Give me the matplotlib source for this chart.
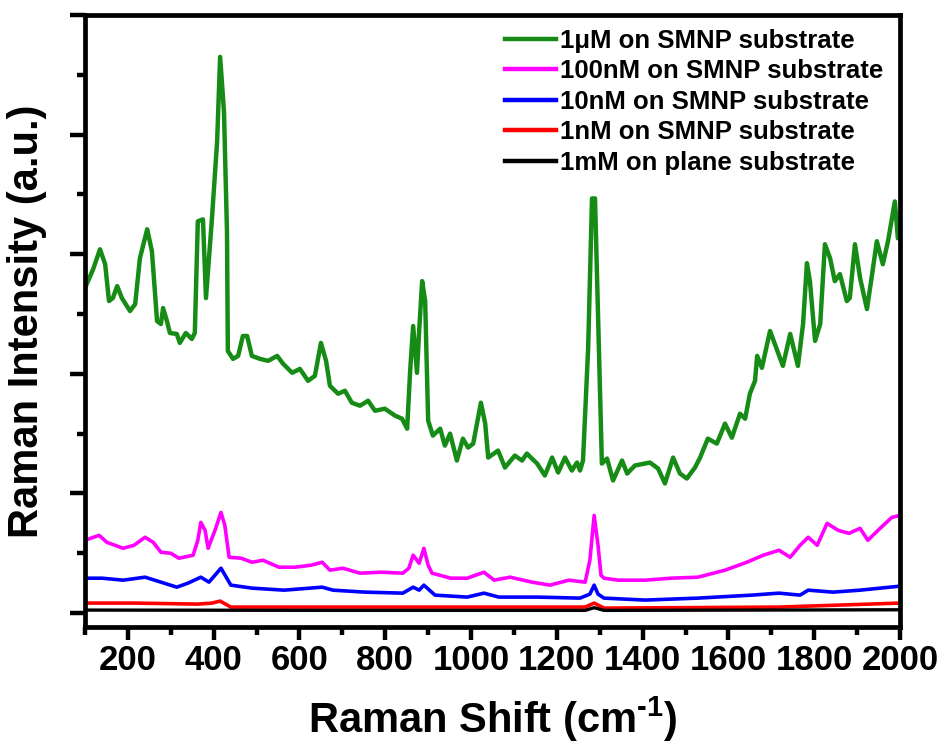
import matplotlib
matplotlib.use("Agg")
import matplotlib.pyplot as plt
from matplotlib.ticker import MultipleLocator, FixedLocator

plt.rcParams['font.family'] = ['Liberation Sans', 'DejaVu Sans']
plt.rcParams['font.weight'] = 'bold'
plt.rcParams['mathtext.fontset'] = 'custom'
plt.rcParams['mathtext.bf'] = 'Liberation Sans:bold'
plt.rcParams['mathtext.rm'] = 'Liberation Sans:bold'
plt.rcParams['axes.unicode_minus'] = False

# Raman spectra (wavenumber in cm^-1, intensity in a.u.)
shift_1uM = [102, 119, 135, 147, 156, 165, 175, 186, 205, 217, 228, 245, 256, 268, 277,
             282, 291, 298, 314, 321, 335, 349, 356, 363, 375, 382, 396, 408, 415, 424,
             431, 433, 445, 457, 468, 478, 489, 508, 527, 548, 562, 583, 601, 620, 636,
             650, 662, 671, 690, 706, 722, 741, 760, 776, 799, 823, 839, 851, 858, 865,
             874, 879, 886, 893, 900, 911, 928, 939, 951, 967, 981, 993, 1005, 1023, 1033,
             1040, 1063, 1079, 1102, 1119, 1130, 1154, 1172, 1189, 1203, 1219, 1235, 1247,
             1254, 1261, 1273, 1282, 1289, 1296, 1305, 1317, 1331, 1352, 1364, 1382, 1417,
             1436, 1452, 1471, 1487, 1503, 1522, 1534, 1552, 1573, 1592, 1608, 1627, 1639,
             1650, 1662, 1667, 1678, 1697, 1727, 1744, 1762, 1774, 1783, 1790, 1802, 1814,
             1825, 1837, 1848, 1860, 1876, 1883, 1895, 1907, 1923, 1935, 1946, 1960, 1972,
             1988, 1995, 2000]
int_1uM = [5467, 5750, 6083, 5833, 5217, 5267, 5467, 5267, 5050, 5167, 5933, 6417, 6050, 4883, 4833,
           5100, 4883, 4683, 4667, 4517, 4683, 4583, 4683, 6550, 6583, 5267, 6600, 7883, 9300, 8383,
           6383, 4383, 4250, 4300, 4633, 4633, 4300, 4250, 4217, 4300, 4167, 4017, 4083, 3883, 3967,
           4517, 4217, 3800, 3667, 3717, 3517, 3467, 3550, 3383, 3417, 3300, 3250, 3083, 4050, 4800,
           4017, 4717, 5550, 5217, 3217, 2967, 3083, 2800, 3000, 2550, 2917, 2767, 2833, 3517, 3167,
           2600, 2717, 2433, 2633, 2550, 2667, 2500, 2300, 2600, 2350, 2600, 2383, 2517,
           2383, 2550, 4433, 6933, 6933, 5000, 2500, 2583, 2217, 2550, 2333, 2467, 2517,
           2417, 2167, 2600, 2333, 2250, 2433, 2600, 2917, 2833, 3167, 2933, 3333, 3250,
           3667, 3883, 4300, 4100, 4717, 4133, 4667, 4133, 4833, 5850, 5550, 4550, 4833,
           6167, 5933, 5550, 5667, 5217, 5267, 6167, 5600, 5083, 5667, 6217, 5833, 6217,
           6883, 6267, 6300]

shift_100nM = [100, 133, 151, 189, 214, 240, 259, 277, 300, 319, 352, 363, 370, 380, 387,
               403, 417, 426, 436, 464, 489, 515, 552, 590, 627, 653, 671, 701, 741, 790,
               841, 855, 865, 879, 890, 900, 909, 953, 991, 1030, 1054, 1091, 1142, 1184,
               1228, 1266, 1277, 1287, 1296, 1303, 1310, 1343, 1406, 1466, 1529, 1592, 1643,
               1681, 1718, 1744, 1767, 1786, 1807, 1830, 1856, 1881, 1907, 1925, 1956, 1981, 2000]
int_100nM = [1217, 1300, 1183, 1083, 1133, 1267, 1183, 1017, 1000, 917, 967, 1217, 1517, 1383, 1083,
             1383, 1683, 1467, 933, 917, 850, 883, 767, 767, 800, 850, 717, 750, 667, 683,
             667, 750, 967, 833, 1083, 800, 667, 583, 583, 683, 550, 600, 517, 467,
             550, 517, 883, 1633, 1133, 633, 583, 550, 550, 583, 600, 717, 850,
             967, 1050, 933, 1133, 1267, 1133, 1500, 1383, 1333, 1417, 1217, 1433, 1600, 1633]

shift_10nM = [100, 140, 189, 240, 277, 314, 340, 370, 389, 417, 440, 489, 564, 653, 678,
              753, 841, 865, 879, 890, 916, 991, 1030, 1065, 1154, 1254, 1277, 1287, 1296,
              1310, 1406, 1529, 1655, 1718, 1767, 1786, 1844, 1907, 2000]
int_10nM = [583, 583, 550, 600, 517, 433, 500, 600, 517, 750, 467, 417, 383, 433, 383,
            350, 333, 433, 383, 467, 300, 267, 333, 267, 267, 250, 317, 467, 317,
            250, 217, 250, 300, 333, 300, 383, 350, 383, 450]

shift_1nM = [100, 214, 363, 396, 415, 440, 841, 1266, 1287, 1310, 1718, 2000]
int_1nM = [167, 167, 150, 167, 200, 100, 100, 100, 167, 83, 100, 167]

shift_plane = [100, 700, 1266, 1287, 1310, 2000]
int_plane = [50, 45, 45, 90, 45, 55]

series = [
    (shift_1uM, int_1uM, '1μM on SMNP substrate', '#168c16', 3.2),
    (shift_100nM, int_100nM, '100nM on SMNP substrate', '#ff00ff', 2.6),
    (shift_10nM, int_10nM, '10nM on SMNP substrate', '#0000ff', 2.6),
    (shift_1nM, int_1nM, '1nM on SMNP substrate', '#ff0000', 2.6),
    (shift_plane, int_plane, '1mM on plane substrate', '#000000', 2.4),
]

W, H = 947, 744
fig = plt.figure(figsize=(W / 100, H / 100), dpi=100)
ax = fig.add_axes([85 / W, 1 - 627 / H, (900 - 85) / W, (627 - 15) / H])

for x, y, label, color, lw in series:
    ax.plot(x, y, color=color, lw=lw, label=label, solid_joinstyle='round')

ax.set_xlim(100, 2000)
ax.set_ylim(-233, 10000)

ax.xaxis.set_major_locator(FixedLocator(list(range(200, 2001, 200))))
ax.xaxis.set_minor_locator(MultipleLocator(100))
ax.yaxis.set_major_locator(MultipleLocator(2000))
ax.yaxis.set_minor_locator(MultipleLocator(1000))
ax.set_yticklabels([])

for side in ['left', 'right', 'top', 'bottom']:
    ax.spines[side].set_linewidth(3.4)

ax.tick_params(axis='x', which='major', direction='out', length=9, width=3.2,
               labelsize=25, pad=3)
ax.tick_params(axis='x', which='minor', direction='out', length=6, width=3.2)
ax.tick_params(axis='y', which='major', direction='out', length=11, width=3.2, labelleft=False)
ax.tick_params(axis='y', which='minor', direction='out', length=6, width=3.2)
for lbl in ax.get_xticklabels():
    lbl.set_fontweight('bold')

# superscript "-1" drawn with a plain hyphen (U+2010) rather than a minus sign
ax.set_xlabel('Raman Shift (cm$^{\\mathbf{\u2010}\\mathbf{1}}$)', fontsize=30,
              fontweight='bold', labelpad=13)
ax.set_ylabel('Raman Intensity (a.u.)', fontsize=30, fontweight='bold', labelpad=16)

leg = ax.legend(loc='upper left', bbox_to_anchor=(505 / W, 1 - 29 / H),
                bbox_transform=fig.transFigure, frameon=False,
                handlelength=2.0, handletextpad=0.15, labelspacing=0.25,
                borderpad=0, borderaxespad=0, prop={'weight': 'bold', 'size': 18.5})
for line in leg.get_lines():
    line.set_linewidth(3.2)

fig.savefig('out.png', dpi=100)
